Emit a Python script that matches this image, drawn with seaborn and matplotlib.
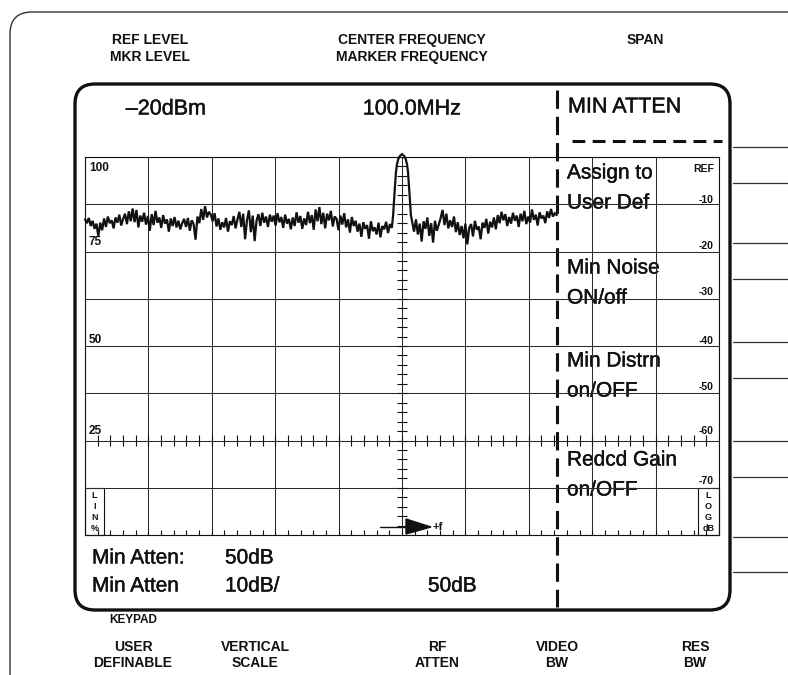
import numpy as np
import pandas as pd
import matplotlib
matplotlib.use("Agg")
import matplotlib.pyplot as plt
import matplotlib.patheffects as pe
import seaborn as sns
from matplotlib.patches import FancyBboxPatch, Rectangle, Polygon

# ---------------- data ----------------
# noise floor trace, dB relative to reference level (10 dB / division)
noise_left_db = [
    -13.2, -14.0, -12.9, -14.6, -13.5, -15.2, -14.1, -16.8, -13.9, -15.5,
    -13.0, -14.8, -12.6, -14.0, -13.4, -15.1, -12.8, -13.9, -12.2, -14.5,
    -13.1, -12.0, -14.2, -11.5, -13.6, -10.9, -13.8, -11.2, -14.9, -12.4,
    -13.7, -11.8, -14.3,
    -12.5, -15.6, -12.1, -14.4, -11.4, -13.9, -12.8, -15.0, -12.3, -14.1,
    -13.2, -15.8, -13.0, -14.6, -12.7, -14.9, -13.5, -15.3, -14.0, -13.1,
    -14.8, -12.9, -15.6, -13.4, -14.2, -17.5, -12.6, -14.0, -11.0, -13.3,
    -10.4, -12.8, -11.6,
    -12.2, -13.6, -11.9, -14.7, -13.0, -15.4, -13.8, -14.9, -12.9, -15.8,
    -13.6, -14.4, -12.5, -15.1, -13.2, -11.6, -14.8, -12.0, -17.4, -13.3,
    -11.3, -15.9, -12.4, -17.8, -13.5, -12.1, -14.6, -11.8, -13.9, -12.6,
    -14.8, -12.2, -13.7,
    -12.4, -14.5, -11.9, -13.8, -12.7, -15.0, -12.2, -14.1, -13.1, -15.3,
    -12.8, -14.6, -11.7, -13.9, -12.5, -15.2, -13.0, -14.4, -11.6, -14.0,
    -12.3, -15.4, -11.1, -13.6, -10.6, -14.2, -11.8, -15.1, -12.0, -13.4,
    -11.4, -14.7, -12.6,
    -13.1, -15.5, -12.4, -14.3, -11.9, -14.9, -13.2, -16.0, -12.7, -14.6,
    -13.5, -15.8, -14.1, -16.9, -13.8, -15.2, -14.4, -17.3, -13.6, -15.7,
    -14.9, -16.4, -13.9, -17.0, -14.6, -15.3, -13.7, -16.1, -14.2, -15.0,
]
noise_right_db = [
    -15.8, -13.2, -16.4, -14.1, -17.9, -13.6, -15.2, -12.8, -16.7, -14.0,
    -18.1, -13.5, -15.6, -14.3,
    -12.9, -11.2, -14.4, -12.0, -15.1, -13.4, -14.8, -12.6, -15.9, -13.8,
    -16.5, -14.6, -17.2, -14.1, -18.5, -15.0,
    -14.2, -16.8, -13.5, -15.4, -14.7, -17.4, -13.9, -15.0, -13.1, -16.2,
    -13.7, -14.9, -12.8, -15.3, -12.3, -14.0, -11.6,
    -13.4, -12.1, -14.6, -12.7, -14.1, -11.8, -13.5, -12.4, -14.8, -12.0,
    -13.6, -11.4, -14.2, -12.6, -13.9, -11.1, -13.3, -12.2, -14.5, -11.7,
    -13.0, -12.4, -14.0, -11.5, -12.9, -11.0, -12.6, -11.9, -12.3,
]
# carrier at the centre frequency (offset in divisions from centre, level in dB)
peak_offset_div = [-0.16, -0.14, -0.125, -0.11, -0.095, -0.08, -0.06, -0.035, 0.0,
                   0.035, 0.06, 0.08, 0.095, 0.11, 0.125, 0.14, 0.16]
peak_db = [-15.0, -12.3, -9.1, -6.0, -3.2, -1.6, -0.5, 0.2, 0.6,
           0.2, -0.5, -1.6, -3.2, -6.0, -9.1, -12.3, -15.0]

center_div = 5.0
left_span = (0.0, 4.84)
right_span = (5.19, 7.44)

left_scale_labels = ["100", "75", "50", "25"]
right_scale_labels = ["REF", "-10", "-20", "-30", "-40", "-50", "-60", "-70"]
header_left = ["REF LEVEL", "MKR LEVEL"]
header_mid = ["CENTER FREQUENCY", "MARKER FREQUENCY"]
header_right = ["SPAN"]
ref_level_text = "\u201320dBm"
center_freq_text = "100.0MHz"
menu_title = "MIN ATTEN"
menu_items = [("Assign to", "User Def"), ("Min Noise", "ON/off"),
              ("Min Distrn", "on/OFF"), ("Redcd Gain", "on/OFF")]
status_lines = [("Min Atten:", "50dB", ""), ("Min Atten", "10dB/", "50dB")]
keypad_label = "KEYPAD"
bottom_keys = [("USER", "DEFINABLE"), ("VERTICAL", "SCALE"), ("RF", "ATTEN"),
               ("VIDEO", "BW"), ("RES", "BW")]

# ---------------- style ----------------
sns.set_style("white")
plt.rcParams["font.family"] = ["Liberation Sans", "DejaVu Sans"]
INK = "#111111"
heavy = [pe.withStroke(linewidth=0.3, foreground=INK)]

W, H = 788, 675
fig = plt.figure(figsize=(W / 100, H / 100), dpi=100)

# overlay in pixel coordinates for the bezel / labels
ov = fig.add_axes([0, 0, 1, 1], zorder=0)
ov.set_xlim(0, W)
ov.set_ylim(H, 0)
ov.axis("off")

# graticule axes: 10 x 8 divisions
gl, gr, gt, gb = 85, 719, 157, 535
ax = fig.add_axes([gl / W, 1 - gb / H, (gr - gl) / W, (gb - gt) / H], zorder=2)
ax.set_facecolor("none")
ax.set_xlim(0, 10)
ax.set_ylim(-80, 0)
ax.set_xticks(np.arange(0, 11, 1))
ax.set_yticks(np.arange(-80, 1, 10))
ax.grid(True, color="#2b2b2b", lw=0.75)
ax.tick_params(length=0, labelleft=False, labelbottom=False)
for s in ax.spines.values():
    s.set_visible(True)
    s.set_color(INK)
    s.set_linewidth(0.8)

# minor ticks on the centre line, the -60 dB line and the bottom edge
minor_x = np.arange(0, 10.001, 0.2)
ax.hlines(np.arange(-80, 0.001, 2), center_div - 0.085, center_div + 0.085, color=INK, lw=0.8)
ax.vlines(minor_x, -61.1, -58.9, color=INK, lw=0.8)
ax.vlines(minor_x, -80, -78.9, color=INK, lw=0.8)

# trace
x_left = np.linspace(left_span[0], left_span[1], len(noise_left_db))
x_right = np.linspace(right_span[0], right_span[1], len(noise_right_db))
x_peak = center_div + np.array(peak_offset_div)
trace = pd.DataFrame({
    "div": np.concatenate([x_left, x_peak[1:-1], x_right]),
    "db": np.concatenate([noise_left_db, peak_db[1:-1], noise_right_db]),
})
sns.lineplot(data=trace, x="div", y="db", sort=False, estimator=None,
             color=INK, lw=1.6, ax=ax)
for ln in ax.lines:
    ln.set_clip_on(False)
    ln.set_solid_joinstyle("miter")
ax.set_xlabel("")
ax.set_ylabel("")

# ---------------- bezel ----------------
ov.add_patch(FancyBboxPatch((10, 12), 950, 720, boxstyle="round,pad=0,rounding_size=22",
                            fill=False, ec="#333333", lw=1.0))
ov.add_patch(FancyBboxPatch((75, 84), 655, 526, boxstyle="round,pad=0,rounding_size=20",
                            fill=False, ec=INK, lw=2.4))
for y in [147, 183, 243, 279, 342, 378, 441, 477, 537, 572]:
    ov.plot([733, W], [y, y], color="#333333", lw=0.9)

ov.plot([557, 557], [90, 607], color=INK, lw=2.2, dashes=(6.0, 2.6))
ov.plot([572, 722], [141, 141], color=INK, lw=2.2, dashes=(4.2, 2.4))

# LIN % and LOG dB boxes
ov.add_patch(Rectangle((85, 488), 19, 47, fill=False, ec=INK, lw=0.8, zorder=3))
ov.add_patch(Rectangle((698, 488), 21, 47, fill=False, ec=INK, lw=0.8, zorder=3))
for i, ch in enumerate(["L", "I", "N", "%"]):
    ov.text(94.5, 495 + i * 11.2, ch, ha="center", va="center", fontsize=6.5,
            fontweight="bold", color=INK)
for i, ch in enumerate(["L", "O", "G", "dB"]):
    ov.text(708.5, 495 + i * 11.2, ch, ha="center", va="center",
            fontsize=6.5, fontweight="bold", color=INK)

# +f arrow
ov.plot([380, 406], [527, 527], color=INK, lw=1.0)
ov.add_patch(Polygon([(406, 519), (431, 527), (406, 534)], closed=True, fc=INK, ec=INK))
ov.text(433, 527, "+f", ha="left", va="center", fontsize=8, fontweight="bold", color=INK)

# scale labels
for lab, y in zip(left_scale_labels, [168, 242, 340, 431]):
    ov.text(89, y, lab, ha="left", va="center", fontsize=8.5, fontweight="bold", color=INK)
for lab, y in zip(right_scale_labels, [169, 200, 246, 292, 341, 387, 431, 481]):
    ov.text(714, y, lab, ha="right", va="center", fontsize=7.5, fontweight="bold", color=INK)

# header
hdr = dict(ha="center", va="center", fontsize=10, fontweight="bold", color=INK)
ov.text(150, 40, header_left[0], **hdr)
ov.text(150, 57, header_left[1], **hdr)
ov.text(412, 40, header_mid[0], **hdr)
ov.text(412, 57, header_mid[1], **hdr)
ov.text(645, 40, header_right[0], **hdr)

# screen text
scr = dict(va="center", color=INK, path_effects=heavy)
ov.text(166, 109, ref_level_text, ha="center", fontsize=15.5, **scr)
ov.text(412, 109, center_freq_text, ha="center", fontsize=15.5, **scr)
ov.text(568, 107, menu_title, ha="left", fontsize=15.5, **scr)
for (l1, l2), (y1, y2) in zip(menu_items, [(173, 203), (268, 298), (361, 391), (460, 490)]):
    ov.text(567, y1, l1, ha="left", fontsize=15, **scr)
    ov.text(567, y2, l2, ha="left", fontsize=15, **scr)
for (a, b, c), y in zip(status_lines, [558, 586]):
    ov.text(92, y, a, ha="left", fontsize=15, **scr)
    ov.text(225, y, b, ha="left", fontsize=15, **scr)
    if c:
        ov.text(428, y, c, ha="left", fontsize=15, **scr)

# below the screen
ov.text(133, 620, keypad_label, ha="center", va="center", fontsize=8.5,
        fontweight="bold", color=INK)
for (l1, l2), x in zip(bottom_keys, [133, 255, 437, 557, 695]):
    ov.text(x, 647, l1, ha="center", va="center", fontsize=10, fontweight="bold", color=INK)
    ov.text(x, 663, l2, ha="center", va="center", fontsize=10, fontweight="bold", color=INK)

fig.savefig("out.png", dpi=100)
